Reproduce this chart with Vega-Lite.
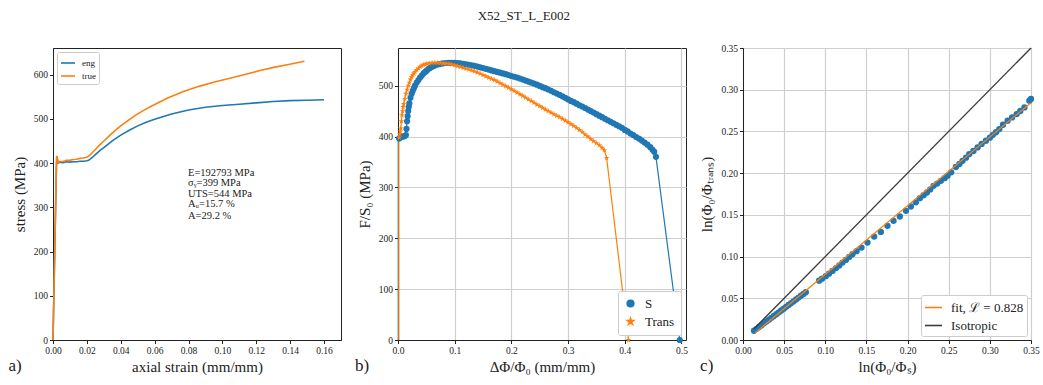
{
  "$schema": "https://vega.github.io/schema/vega-lite/v6.json",
  "title": {"text": "X52_ST_L_E002", "font": "Liberation Serif", "fontSize": 13, "fontWeight": "normal", "color": "#222", "anchor": "middle", "offset": 20},
  "padding": {"left": 7, "top": 9, "right": 5, "bottom": 5},
  "spacing": 57,
  "bounds": "flush",
  "config": {
    "font": "Liberation Serif",
    "view": {"stroke": "#222", "strokeWidth": 1},
    "axis": {"labelFont": "Liberation Serif", "labelFontSize": 9.5, "labelColor": "#222", "labelOverlap": false, "labelFlush": false, "titleFont": "Liberation Serif", "titleFontSize": 15, "titleFontWeight": "normal", "titleColor": "#222", "domainColor": "#222", "tickColor": "#222", "tickSize": 3.5, "gridColor": "#cfcfcf", "gridWidth": 1.2, "labelPadding": 2, "titlePadding": 4},
    "legend": {"labelFont": "Liberation Serif", "labelColor": "#222"},
    "text": {"font": "Liberation Serif"}
  },
  "resolve": {"scale": {"color": "independent", "shape": "independent"}, "legend": {"color": "independent", "shape": "independent"}},
  "datasets": {
    "curves": [
      {"c": "eng", "x": 0, "y": 0}, {"c": "eng", "x": 0.001, "y": 195}, {"c": "eng", "x": 0.002, "y": 390}, {"c": "eng", "x": 0.0022, "y": 415}, {"c": "eng", "x": 0.0026, "y": 408}, {"c": "eng", "x": 0.003, "y": 400}, {"c": "eng", "x": 0.004, "y": 402}, {"c": "eng", "x": 0.006, "y": 401}, {"c": "eng", "x": 0.008, "y": 403}, {"c": "eng", "x": 0.010, "y": 402}, {"c": "eng", "x": 0.012, "y": 403}, {"c": "eng", "x": 0.014, "y": 403}, {"c": "eng", "x": 0.016, "y": 404}, {"c": "eng", "x": 0.018, "y": 404}, {"c": "eng", "x": 0.020, "y": 405}, {"c": "eng", "x": 0.021, "y": 406}, {"c": "eng", "x": 0.023, "y": 412}, {"c": "eng", "x": 0.025, "y": 419}, {"c": "eng", "x": 0.028, "y": 429}, {"c": "eng", "x": 0.030, "y": 435}, {"c": "eng", "x": 0.035, "y": 450}, {"c": "eng", "x": 0.040, "y": 463}, {"c": "eng", "x": 0.045, "y": 474}, {"c": "eng", "x": 0.050, "y": 484}, {"c": "eng", "x": 0.055, "y": 492}, {"c": "eng", "x": 0.060, "y": 499}, {"c": "eng", "x": 0.070, "y": 511}, {"c": "eng", "x": 0.080, "y": 520}, {"c": "eng", "x": 0.090, "y": 526}, {"c": "eng", "x": 0.100, "y": 530}, {"c": "eng", "x": 0.110, "y": 533}, {"c": "eng", "x": 0.120, "y": 536}, {"c": "eng", "x": 0.130, "y": 539}, {"c": "eng", "x": 0.140, "y": 541}, {"c": "eng", "x": 0.150, "y": 542}, {"c": "eng", "x": 0.160, "y": 543},
      {"c": "true", "x": 0, "y": 0}, {"c": "true", "x": 0.001, "y": 195.2}, {"c": "true", "x": 0.002, "y": 390.8}, {"c": "true", "x": 0.0022, "y": 415.9}, {"c": "true", "x": 0.0026, "y": 409.1}, {"c": "true", "x": 0.003, "y": 401.2}, {"c": "true", "x": 0.004, "y": 403.6}, {"c": "true", "x": 0.006, "y": 403.4}, {"c": "true", "x": 0.008, "y": 406.2}, {"c": "true", "x": 0.00995, "y": 406.0}, {"c": "true", "x": 0.0119, "y": 407.8}, {"c": "true", "x": 0.0139, "y": 408.6}, {"c": "true", "x": 0.0159, "y": 410.5}, {"c": "true", "x": 0.0178, "y": 411.3}, {"c": "true", "x": 0.0198, "y": 413.1}, {"c": "true", "x": 0.0208, "y": 414.5}, {"c": "true", "x": 0.0227, "y": 421.5}, {"c": "true", "x": 0.0247, "y": 429.5}, {"c": "true", "x": 0.0276, "y": 441.0}, {"c": "true", "x": 0.0296, "y": 448.1}, {"c": "true", "x": 0.0344, "y": 465.8}, {"c": "true", "x": 0.0392, "y": 481.5}, {"c": "true", "x": 0.0440, "y": 495.3}, {"c": "true", "x": 0.0488, "y": 508.2}, {"c": "true", "x": 0.0535, "y": 519.1}, {"c": "true", "x": 0.0583, "y": 528.9}, {"c": "true", "x": 0.0677, "y": 546.8}, {"c": "true", "x": 0.0770, "y": 561.6}, {"c": "true", "x": 0.0862, "y": 573.3}, {"c": "true", "x": 0.0953, "y": 583.0}, {"c": "true", "x": 0.1044, "y": 591.6}, {"c": "true", "x": 0.1133, "y": 600.3}, {"c": "true", "x": 0.1222, "y": 609.1}, {"c": "true", "x": 0.1310, "y": 616.7}, {"c": "true", "x": 0.1398, "y": 623.3}, {"c": "true", "x": 0.1484, "y": 629.9}
    ],
    "stats": [
      {"label": "E=192793 MPa", "y": 377.5},
      {"label": "σᵧ=399 MPa", "y": 353.8},
      {"label": "UTS=544 MPa", "y": 328.9},
      {"label": "Aᵤ=15.7 %", "y": 307.4},
      {"label": "A=29.2 %", "y": 279.2}
    ],
    "ring": [
      {"s": "S", "x": 0.0005, "y": 0}, {"s": "S", "x": 0.0005, "y": 15}, {"s": "S", "x": 0.0005, "y": 30}, {"s": "S", "x": 0.0005, "y": 45}, {"s": "S", "x": 0.0005, "y": 60}, {"s": "S", "x": 0.0005, "y": 75}, {"s": "S", "x": 0.0005, "y": 90}, {"s": "S", "x": 0.0005, "y": 105}, {"s": "S", "x": 0.0005, "y": 120}, {"s": "S", "x": 0.0005, "y": 135}, {"s": "S", "x": 0.0005, "y": 150}, {"s": "S", "x": 0.0005, "y": 165}, {"s": "S", "x": 0.0005, "y": 180}, {"s": "S", "x": 0.0005, "y": 195}, {"s": "S", "x": 0.0005, "y": 210}, {"s": "S", "x": 0.0005, "y": 225}, {"s": "S", "x": 0.0005, "y": 240}, {"s": "S", "x": 0.0005, "y": 255}, {"s": "S", "x": 0.0005, "y": 270}, {"s": "S", "x": 0.0005, "y": 285}, {"s": "S", "x": 0.0005, "y": 300}, {"s": "S", "x": 0.0005, "y": 315}, {"s": "S", "x": 0.0005, "y": 330}, {"s": "S", "x": 0.0005, "y": 345}, {"s": "S", "x": 0.0005, "y": 360}, {"s": "S", "x": 0.0005, "y": 375}, {"s": "S", "x": 0.0005, "y": 390},
      {"s": "S", "x": 0.002, "y": 396}, {"s": "S", "x": 0.004, "y": 398}, {"s": "S", "x": 0.006, "y": 399}, {"s": "S", "x": 0.008, "y": 400}, {"s": "S", "x": 0.010, "y": 400}, {"s": "S", "x": 0.012, "y": 401}, {"s": "S", "x": 0.014, "y": 403}, {"s": "S", "x": 0.015, "y": 415}, {"s": "S", "x": 0.016, "y": 430}, {"s": "S", "x": 0.017, "y": 440}, {"s": "S", "x": 0.018, "y": 450}, {"s": "S", "x": 0.019, "y": 458}, {"s": "S", "x": 0.020, "y": 465}, {"s": "S", "x": 0.022, "y": 476}, {"s": "S", "x": 0.024, "y": 484}, {"s": "S", "x": 0.026, "y": 490}, {"s": "S", "x": 0.028, "y": 495}, {"s": "S", "x": 0.030, "y": 500}, {"s": "S", "x": 0.033, "y": 506}, {"s": "S", "x": 0.036, "y": 511}, {"s": "S", "x": 0.039, "y": 516}, {"s": "S", "x": 0.042, "y": 520}, {"s": "S", "x": 0.045, "y": 524}, {"s": "S", "x": 0.048, "y": 527}, {"s": "S", "x": 0.051, "y": 530}, {"s": "S", "x": 0.054, "y": 533}, {"s": "S", "x": 0.057, "y": 535}, {"s": "S", "x": 0.060, "y": 537}, {"s": "S", "x": 0.064, "y": 539}, {"s": "S", "x": 0.068, "y": 541}, {"s": "S", "x": 0.072, "y": 542}, {"s": "S", "x": 0.076, "y": 543}, {"s": "S", "x": 0.080, "y": 544}, {"s": "S", "x": 0.085, "y": 544.5}, {"s": "S", "x": 0.090, "y": 545}, {"s": "S", "x": 0.095, "y": 545}, {"s": "S", "x": 0.100, "y": 545}, {"s": "S", "x": 0.105, "y": 544.5}, {"s": "S", "x": 0.110, "y": 544}, {"s": "S", "x": 0.115, "y": 543}, {"s": "S", "x": 0.120, "y": 542}, {"s": "S", "x": 0.125, "y": 541}, {"s": "S", "x": 0.130, "y": 540}, {"s": "S", "x": 0.135, "y": 539}, {"s": "S", "x": 0.140, "y": 537.5}, {"s": "S", "x": 0.145, "y": 536}, {"s": "S", "x": 0.150, "y": 534.5}, {"s": "S", "x": 0.155, "y": 533}, {"s": "S", "x": 0.160, "y": 531.5}, {"s": "S", "x": 0.165, "y": 530}, {"s": "S", "x": 0.170, "y": 528.5}, {"s": "S", "x": 0.175, "y": 527}, {"s": "S", "x": 0.180, "y": 525.5}, {"s": "S", "x": 0.185, "y": 524}, {"s": "S", "x": 0.190, "y": 522.5}, {"s": "S", "x": 0.195, "y": 521}, {"s": "S", "x": 0.200, "y": 519}, {"s": "S", "x": 0.205, "y": 517.5}, {"s": "S", "x": 0.210, "y": 516}, {"s": "S", "x": 0.215, "y": 514}, {"s": "S", "x": 0.220, "y": 512}, {"s": "S", "x": 0.225, "y": 510}, {"s": "S", "x": 0.230, "y": 508}, {"s": "S", "x": 0.235, "y": 506}, {"s": "S", "x": 0.240, "y": 504}, {"s": "S", "x": 0.245, "y": 502}, {"s": "S", "x": 0.250, "y": 499.5}, {"s": "S", "x": 0.255, "y": 497}, {"s": "S", "x": 0.260, "y": 495}, {"s": "S", "x": 0.265, "y": 492.5}, {"s": "S", "x": 0.270, "y": 490}, {"s": "S", "x": 0.275, "y": 487}, {"s": "S", "x": 0.280, "y": 484.5}, {"s": "S", "x": 0.285, "y": 482}, {"s": "S", "x": 0.290, "y": 479}, {"s": "S", "x": 0.295, "y": 476}, {"s": "S", "x": 0.300, "y": 473}, {"s": "S", "x": 0.305, "y": 470}, {"s": "S", "x": 0.310, "y": 467.5}, {"s": "S", "x": 0.315, "y": 464.5}, {"s": "S", "x": 0.320, "y": 461.5}, {"s": "S", "x": 0.325, "y": 459}, {"s": "S", "x": 0.330, "y": 456}, {"s": "S", "x": 0.335, "y": 453}, {"s": "S", "x": 0.340, "y": 450}, {"s": "S", "x": 0.345, "y": 447}, {"s": "S", "x": 0.350, "y": 444}, {"s": "S", "x": 0.355, "y": 441}, {"s": "S", "x": 0.360, "y": 438}, {"s": "S", "x": 0.365, "y": 435}, {"s": "S", "x": 0.370, "y": 432}, {"s": "S", "x": 0.375, "y": 429}, {"s": "S", "x": 0.380, "y": 426}, {"s": "S", "x": 0.385, "y": 423}, {"s": "S", "x": 0.390, "y": 420}, {"s": "S", "x": 0.395, "y": 417}, {"s": "S", "x": 0.400, "y": 413}, {"s": "S", "x": 0.405, "y": 410}, {"s": "S", "x": 0.410, "y": 406}, {"s": "S", "x": 0.415, "y": 403}, {"s": "S", "x": 0.420, "y": 399}, {"s": "S", "x": 0.425, "y": 396}, {"s": "S", "x": 0.430, "y": 392}, {"s": "S", "x": 0.435, "y": 388}, {"s": "S", "x": 0.440, "y": 384}, {"s": "S", "x": 0.445, "y": 379}, {"s": "S", "x": 0.449, "y": 374}, {"s": "S", "x": 0.452, "y": 370}, {"s": "S", "x": 0.455, "y": 360}, {"s": "S", "x": 0.497, "y": 0},
      {"s": "Trans", "x": 0.0015, "y": 0}, {"s": "Trans", "x": 0.0015, "y": 15}, {"s": "Trans", "x": 0.0015, "y": 30}, {"s": "Trans", "x": 0.0015, "y": 45}, {"s": "Trans", "x": 0.0015, "y": 60}, {"s": "Trans", "x": 0.0015, "y": 75}, {"s": "Trans", "x": 0.0015, "y": 90}, {"s": "Trans", "x": 0.0015, "y": 105}, {"s": "Trans", "x": 0.0015, "y": 120}, {"s": "Trans", "x": 0.0015, "y": 135}, {"s": "Trans", "x": 0.0015, "y": 150}, {"s": "Trans", "x": 0.0015, "y": 165}, {"s": "Trans", "x": 0.0015, "y": 180}, {"s": "Trans", "x": 0.0015, "y": 195}, {"s": "Trans", "x": 0.0015, "y": 210}, {"s": "Trans", "x": 0.0015, "y": 225}, {"s": "Trans", "x": 0.0015, "y": 240}, {"s": "Trans", "x": 0.0015, "y": 255}, {"s": "Trans", "x": 0.0015, "y": 270}, {"s": "Trans", "x": 0.0015, "y": 285}, {"s": "Trans", "x": 0.0015, "y": 300}, {"s": "Trans", "x": 0.0015, "y": 315}, {"s": "Trans", "x": 0.0015, "y": 330}, {"s": "Trans", "x": 0.0015, "y": 345}, {"s": "Trans", "x": 0.0015, "y": 360}, {"s": "Trans", "x": 0.0015, "y": 375}, {"s": "Trans", "x": 0.0015, "y": 390},
      {"s": "Trans", "x": 0.002, "y": 398}, {"s": "Trans", "x": 0.003, "y": 405}, {"s": "Trans", "x": 0.004, "y": 410}, {"s": "Trans", "x": 0.005, "y": 416}, {"s": "Trans", "x": 0.006, "y": 430}, {"s": "Trans", "x": 0.007, "y": 442}, {"s": "Trans", "x": 0.008, "y": 450}, {"s": "Trans", "x": 0.009, "y": 458}, {"s": "Trans", "x": 0.010, "y": 464}, {"s": "Trans", "x": 0.012, "y": 474}, {"s": "Trans", "x": 0.014, "y": 484}, {"s": "Trans", "x": 0.016, "y": 492}, {"s": "Trans", "x": 0.018, "y": 500}, {"s": "Trans", "x": 0.020, "y": 506}, {"s": "Trans", "x": 0.022, "y": 512}, {"s": "Trans", "x": 0.024, "y": 517}, {"s": "Trans", "x": 0.026, "y": 521}, {"s": "Trans", "x": 0.028, "y": 524}, {"s": "Trans", "x": 0.030, "y": 527}, {"s": "Trans", "x": 0.033, "y": 531}, {"s": "Trans", "x": 0.036, "y": 534}, {"s": "Trans", "x": 0.039, "y": 537}, {"s": "Trans", "x": 0.042, "y": 539}, {"s": "Trans", "x": 0.045, "y": 541}, {"s": "Trans", "x": 0.048, "y": 542}, {"s": "Trans", "x": 0.051, "y": 543}, {"s": "Trans", "x": 0.055, "y": 544}, {"s": "Trans", "x": 0.060, "y": 545}, {"s": "Trans", "x": 0.065, "y": 545}, {"s": "Trans", "x": 0.070, "y": 545}, {"s": "Trans", "x": 0.075, "y": 544.5}, {"s": "Trans", "x": 0.080, "y": 544}, {"s": "Trans", "x": 0.085, "y": 543.5}, {"s": "Trans", "x": 0.090, "y": 543}, {"s": "Trans", "x": 0.095, "y": 541.5}, {"s": "Trans", "x": 0.100, "y": 540}, {"s": "Trans", "x": 0.105, "y": 538.5}, {"s": "Trans", "x": 0.110, "y": 537}, {"s": "Trans", "x": 0.115, "y": 535}, {"s": "Trans", "x": 0.120, "y": 533.5}, {"s": "Trans", "x": 0.125, "y": 532}, {"s": "Trans", "x": 0.130, "y": 530}, {"s": "Trans", "x": 0.135, "y": 528}, {"s": "Trans", "x": 0.140, "y": 526}, {"s": "Trans", "x": 0.145, "y": 523.5}, {"s": "Trans", "x": 0.150, "y": 521}, {"s": "Trans", "x": 0.155, "y": 518.5}, {"s": "Trans", "x": 0.160, "y": 516}, {"s": "Trans", "x": 0.165, "y": 513.5}, {"s": "Trans", "x": 0.170, "y": 511}, {"s": "Trans", "x": 0.175, "y": 508}, {"s": "Trans", "x": 0.180, "y": 505}, {"s": "Trans", "x": 0.185, "y": 502}, {"s": "Trans", "x": 0.190, "y": 499}, {"s": "Trans", "x": 0.195, "y": 496}, {"s": "Trans", "x": 0.200, "y": 493}, {"s": "Trans", "x": 0.205, "y": 490}, {"s": "Trans", "x": 0.210, "y": 486.5}, {"s": "Trans", "x": 0.215, "y": 483}, {"s": "Trans", "x": 0.220, "y": 480}, {"s": "Trans", "x": 0.225, "y": 476.5}, {"s": "Trans", "x": 0.230, "y": 473}, {"s": "Trans", "x": 0.235, "y": 470}, {"s": "Trans", "x": 0.240, "y": 466.5}, {"s": "Trans", "x": 0.245, "y": 463}, {"s": "Trans", "x": 0.250, "y": 460}, {"s": "Trans", "x": 0.255, "y": 456.5}, {"s": "Trans", "x": 0.260, "y": 453}, {"s": "Trans", "x": 0.265, "y": 450}, {"s": "Trans", "x": 0.270, "y": 447}, {"s": "Trans", "x": 0.275, "y": 444}, {"s": "Trans", "x": 0.280, "y": 441}, {"s": "Trans", "x": 0.285, "y": 438}, {"s": "Trans", "x": 0.290, "y": 435}, {"s": "Trans", "x": 0.295, "y": 431.5}, {"s": "Trans", "x": 0.300, "y": 428}, {"s": "Trans", "x": 0.305, "y": 424.5}, {"s": "Trans", "x": 0.310, "y": 421}, {"s": "Trans", "x": 0.315, "y": 417}, {"s": "Trans", "x": 0.320, "y": 413}, {"s": "Trans", "x": 0.325, "y": 409}, {"s": "Trans", "x": 0.330, "y": 404}, {"s": "Trans", "x": 0.335, "y": 400}, {"s": "Trans", "x": 0.340, "y": 395}, {"s": "Trans", "x": 0.345, "y": 391}, {"s": "Trans", "x": 0.350, "y": 387}, {"s": "Trans", "x": 0.355, "y": 383}, {"s": "Trans", "x": 0.360, "y": 378}, {"s": "Trans", "x": 0.364, "y": 373}, {"s": "Trans", "x": 0.368, "y": 358}, {"s": "Trans", "x": 0.4065, "y": 0}
    ],
    "lank": [
      {"x": 0.0134, "y": 0.0111}, {"x": 0.0165, "y": 0.0134}, {"x": 0.0195, "y": 0.0156}, {"x": 0.0225, "y": 0.0178}, {"x": 0.0255, "y": 0.0200}, {"x": 0.0285, "y": 0.0222}, {"x": 0.0315, "y": 0.0244}, {"x": 0.0345, "y": 0.0266}, {"x": 0.0375, "y": 0.0288}, {"x": 0.0405, "y": 0.0310}, {"x": 0.0435, "y": 0.0332}, {"x": 0.0465, "y": 0.0354}, {"x": 0.0495, "y": 0.0376}, {"x": 0.0525, "y": 0.0398}, {"x": 0.0555, "y": 0.0420}, {"x": 0.0585, "y": 0.0442}, {"x": 0.0615, "y": 0.0464}, {"x": 0.0645, "y": 0.0486}, {"x": 0.0675, "y": 0.0508}, {"x": 0.0705, "y": 0.0530}, {"x": 0.0735, "y": 0.0552}, {"x": 0.0763, "y": 0.0572},
      {"x": 0.0925, "y": 0.0711}, {"x": 0.0960, "y": 0.0735}, {"x": 0.1006, "y": 0.0765}, {"x": 0.1045, "y": 0.0795}, {"x": 0.1087, "y": 0.0828}, {"x": 0.1130, "y": 0.0862}, {"x": 0.1170, "y": 0.0893}, {"x": 0.1209, "y": 0.0928}, {"x": 0.1250, "y": 0.0960}, {"x": 0.1290, "y": 0.0995}, {"x": 0.1330, "y": 0.1028}, {"x": 0.1380, "y": 0.1065}, {"x": 0.1440, "y": 0.1108}, {"x": 0.1513, "y": 0.1168}, {"x": 0.1594, "y": 0.1240}, {"x": 0.1675, "y": 0.1296}, {"x": 0.1756, "y": 0.1368}, {"x": 0.1829, "y": 0.1428}, {"x": 0.1906, "y": 0.1480}, {"x": 0.1980, "y": 0.1548}, {"x": 0.2040, "y": 0.1600}, {"x": 0.2100, "y": 0.1650}, {"x": 0.2149, "y": 0.1700}, {"x": 0.2195, "y": 0.1735}, {"x": 0.2235, "y": 0.1768}, {"x": 0.2275, "y": 0.1805}, {"x": 0.2316, "y": 0.1848}, {"x": 0.2360, "y": 0.1875}, {"x": 0.2405, "y": 0.1908}, {"x": 0.2450, "y": 0.1940}, {"x": 0.2486, "y": 0.1968}, {"x": 0.2530, "y": 0.2010}, {"x": 0.2587, "y": 0.2075}, {"x": 0.2630, "y": 0.2110}, {"x": 0.2668, "y": 0.2148}, {"x": 0.2710, "y": 0.2185}, {"x": 0.2750, "y": 0.2228}, {"x": 0.2800, "y": 0.2265}, {"x": 0.2851, "y": 0.2308}, {"x": 0.2900, "y": 0.2350}, {"x": 0.2952, "y": 0.2388}, {"x": 0.3000, "y": 0.2425}, {"x": 0.3034, "y": 0.2456}, {"x": 0.3075, "y": 0.2490}, {"x": 0.3115, "y": 0.2528}, {"x": 0.3160, "y": 0.2580}, {"x": 0.3216, "y": 0.2628}, {"x": 0.3270, "y": 0.2668}, {"x": 0.3326, "y": 0.2708}, {"x": 0.3370, "y": 0.2745}, {"x": 0.3420, "y": 0.2788}, {"x": 0.3480, "y": 0.2868}, {"x": 0.3500, "y": 0.2890}
    ],
    "refl": [
      {"n": "fit, ℒ = 0.828", "x": 0.0146, "y": 0.0084}, {"n": "fit, ℒ = 0.828", "x": 0.35, "y": 0.2845},
      {"n": "Isotropic", "x": 0.0134, "y": 0.0134}, {"n": "Isotropic", "x": 0.35, "y": 0.35}
    ]
  },
  "hconcat": [
    {
      "width": 288, "height": 292,
      "layer": [
        {
          "data": {"name": "curves"},
          "mark": {"type": "line", "strokeWidth": 1.6},
          "encoding": {
            "x": {"field": "x", "type": "quantitative", "scale": {"domain": [0, 0.17], "nice": false, "zero": false}, "axis": {"values": [0, 0.02, 0.04, 0.06, 0.08, 0.1, 0.12, 0.14, 0.16], "format": ".2f", "grid": false, "labelOverlap": false, "labelFlush": false, "labelSeparation": 0, "title": "axial strain (mm/mm)"}},
            "y": {"field": "y", "type": "quantitative", "scale": {"domain": [0, 660], "nice": false, "zero": false}, "axis": {"values": [0, 100, 200, 300, 400, 500, 600], "grid": false, "labelOverlap": false, "labelFlush": false, "title": "stress (MPa)", "titlePadding": 6}},
            "color": {"field": "c", "type": "nominal", "scale": {"domain": ["eng", "true"], "range": ["#1f77b4", "#ff7f0e"]}, "legend": {"title": null, "orient": "top-left", "offset": 4, "symbolType": "stroke", "symbolSize": 196, "symbolStrokeWidth": 1.6, "labelFontSize": 9, "fillColor": "white", "strokeColor": "#cccccc", "padding": 3, "rowPadding": 0, "labelOffset": 6, "cornerRadius": 2}}
          }
        },
        {
          "data": {"name": "stats"},
          "mark": {"type": "text", "align": "left", "baseline": "middle", "fontSize": 10.5, "color": "#222"},
          "encoding": {
            "x": {"datum": 0.0797, "type": "quantitative", "scale": {"domain": [0, 0.17], "nice": false, "zero": false}, "axis": {"values": [0, 0.02, 0.04, 0.06, 0.08, 0.1, 0.12, 0.14, 0.16], "format": ".2f", "grid": false, "labelOverlap": false, "labelFlush": false, "labelSeparation": 0, "title": "axial strain (mm/mm)"}},
            "y": {"field": "y", "type": "quantitative", "scale": {"domain": [0, 660], "nice": false, "zero": false}, "axis": {"values": [0, 100, 200, 300, 400, 500, 600], "grid": false, "labelOverlap": false, "labelFlush": false, "title": "stress (MPa)", "titlePadding": 6}},
            "text": {"field": "label"}
          }
        },
        {
          "data": {"values": [{}]},
          "mark": {"type": "text", "text": "a)", "align": "center", "baseline": "middle", "fontSize": 17, "color": "#222"},
          "encoding": {
            "x": {"datum": -0.0224, "type": "quantitative", "scale": {"domain": [0, 0.17], "nice": false, "zero": false}, "axis": {"values": [0, 0.02, 0.04, 0.06, 0.08, 0.1, 0.12, 0.14, 0.16], "format": ".2f", "grid": false, "labelOverlap": false, "labelFlush": false, "labelSeparation": 0, "title": "axial strain (mm/mm)"}},
            "y": {"datum": -58.8, "type": "quantitative", "scale": {"domain": [0, 660], "nice": false, "zero": false}, "axis": {"values": [0, 100, 200, 300, 400, 500, 600], "grid": false, "labelOverlap": false, "labelFlush": false, "title": "stress (MPa)", "titlePadding": 6}}
          }
        }
      ]
    },
    {
      "width": 288, "height": 292,
      "layer": [
        {
          "data": {"name": "ring"},
          "mark": {"type": "line", "strokeWidth": 1.2},
          "encoding": {
            "x": {"field": "x", "type": "quantitative", "scale": {"domain": [0, 0.508], "nice": false, "zero": false}, "axis": {"values": [0, 0.1, 0.2, 0.3, 0.4, 0.5], "format": ".1f", "grid": true, "labelOverlap": false, "labelFlush": false, "title": "ΔΦ/Φ₀ (mm/mm)"}},
            "y": {"field": "y", "type": "quantitative", "scale": {"domain": [0, 574], "nice": false, "zero": false}, "axis": {"values": [0, 100, 200, 300, 400, 500], "grid": true, "labelOverlap": false, "labelFlush": false, "title": "F/S₀ (MPa)", "titlePadding": 6}},
            "color": {"field": "s", "type": "nominal", "scale": {"domain": ["S", "Trans"], "range": ["#1f77b4", "#ff7f0e"]}, "legend": {"title": null, "orient": "bottom-right", "offset": 5, "labelFontSize": 13, "symbolSize": 45, "fillColor": "white", "strokeColor": "#cccccc", "padding": 6, "rowPadding": 4, "labelOffset": 8, "cornerRadius": 2, "symbolOpacity": 1}}
          }
        },
        {
          "data": {"name": "ring"},
          "transform": [{"filter": "datum.x > 0.0018"}],
          "mark": {"type": "point", "filled": true, "opacity": 1, "size": 38},
          "encoding": {
            "x": {"field": "x", "type": "quantitative", "scale": {"domain": [0, 0.508], "nice": false, "zero": false}},
            "y": {"field": "y", "type": "quantitative", "scale": {"domain": [0, 574], "nice": false, "zero": false}},
            "color": {"field": "s", "type": "nominal", "scale": {"domain": ["S", "Trans"], "range": ["#1f77b4", "#ff7f0e"]}, "legend": {"title": null, "orient": "bottom-right", "offset": 5, "labelFontSize": 13, "symbolSize": 45, "fillColor": "white", "strokeColor": "#cccccc", "padding": 6, "rowPadding": 4, "labelOffset": 8, "cornerRadius": 2, "symbolOpacity": 1}},
            "shape": {"field": "s", "type": "nominal", "scale": {"domain": ["S", "Trans"], "range": ["circle", "M0,-1L0.2245,-0.309L0.9511,-0.309L0.3633,0.118L0.5878,0.809L0,0.382L-0.5878,0.809L-0.3633,0.118L-0.9511,-0.309L-0.2245,-0.309Z"]}, "legend": {"title": null, "orient": "bottom-right", "offset": 5, "labelFontSize": 13, "symbolSize": 45, "fillColor": "white", "strokeColor": "#cccccc", "padding": 6, "rowPadding": 4, "labelOffset": 8, "cornerRadius": 2, "symbolOpacity": 1}}
          }
        },
        {
          "data": {"values": [{}]},
          "mark": {"type": "text", "text": "b)", "align": "center", "baseline": "middle", "fontSize": 17, "color": "#222"},
          "encoding": {"x": {"datum": -0.0635, "type": "quantitative", "scale": {"domain": [0, 0.508], "nice": false, "zero": false}}, "y": {"datum": -51, "type": "quantitative", "scale": {"domain": [0, 574], "nice": false, "zero": false}}}
        }
      ]
    },
    {
      "width": 288, "height": 292,
      "layer": [
        {
          "data": {"name": "lank"},
          "mark": {"type": "point", "filled": true, "opacity": 1, "size": 40, "color": "#1f77b4"},
          "encoding": {
            "x": {"field": "x", "type": "quantitative", "scale": {"domain": [0, 0.35], "nice": false, "zero": false}, "axis": {"values": [0, 0.05, 0.1, 0.15, 0.2, 0.25, 0.3, 0.35], "format": ".2f", "grid": true, "labelOverlap": false, "labelFlush": false, "title": "ln(Φ₀/Φₛ)"}},
            "y": {"field": "y", "type": "quantitative", "scale": {"domain": [0, 0.35], "nice": false, "zero": false}, "axis": {"values": [0, 0.05, 0.1, 0.15, 0.2, 0.25, 0.3, 0.35], "format": ".2f", "grid": true, "labelOverlap": false, "labelFlush": false, "title": "ln(Φ₀/Φₜᵣₐₙₛ)", "titlePadding": 6}}
          }
        },
        {
          "data": {"name": "refl"},
          "mark": {"type": "line", "strokeWidth": 1.3},
          "encoding": {
            "x": {"field": "x", "type": "quantitative", "scale": {"domain": [0, 0.35], "nice": false, "zero": false}},
            "y": {"field": "y", "type": "quantitative", "scale": {"domain": [0, 0.35], "nice": false, "zero": false}},
            "color": {"field": "n", "type": "nominal", "scale": {"domain": ["fit, ℒ = 0.828", "Isotropic"], "range": ["#ff7f0e", "#3a3a3a"]}, "legend": {"title": null, "orient": "bottom-right", "offset": 4, "symbolType": "stroke", "symbolSize": 289, "symbolStrokeWidth": 1.6, "labelFontSize": 13, "fillColor": "white", "strokeColor": "#cccccc", "padding": 3, "rowPadding": 1, "labelOffset": 8, "cornerRadius": 2}}
          }
        },
        {
          "data": {"values": [{}]},
          "mark": {"type": "text", "text": "c)", "align": "center", "baseline": "middle", "fontSize": 17, "color": "#222"},
          "encoding": {"x": {"datum": -0.0441, "type": "quantitative", "scale": {"domain": [0, 0.35], "nice": false, "zero": false}}, "y": {"datum": -0.0312, "type": "quantitative", "scale": {"domain": [0, 0.35], "nice": false, "zero": false}}}
        }
      ]
    }
  ]
}
